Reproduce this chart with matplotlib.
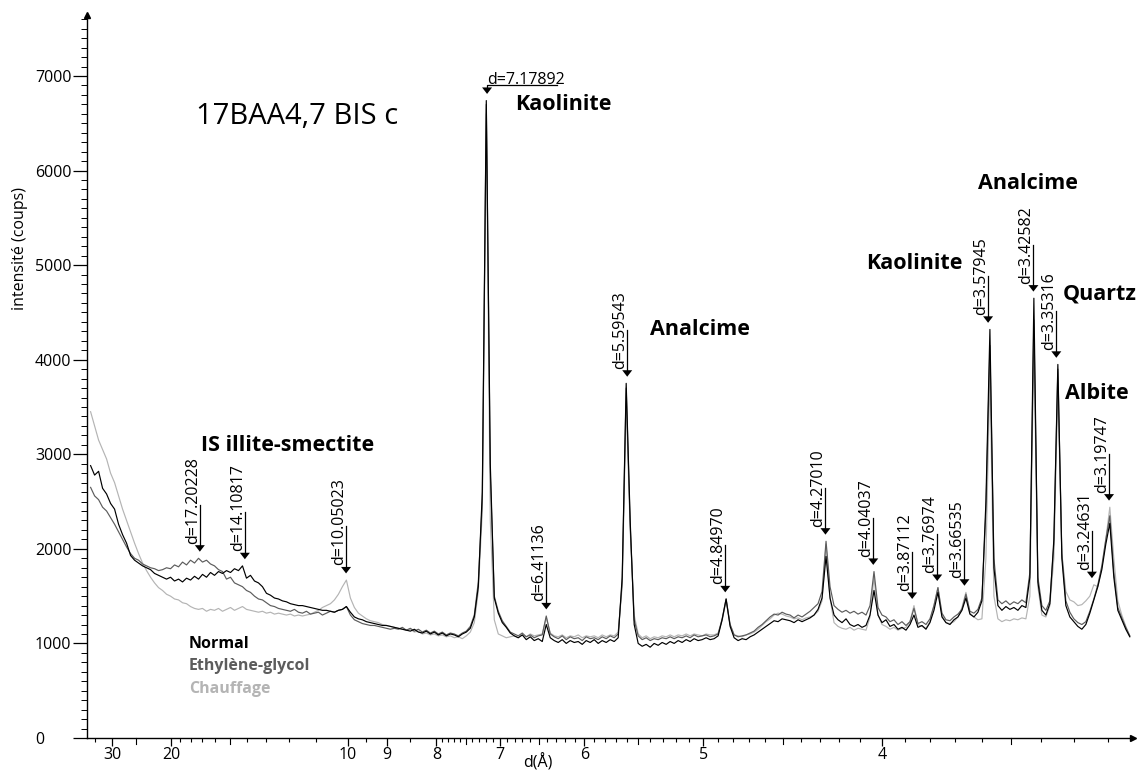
import numpy as np
import matplotlib.pyplot as plt
from matplotlib.ticker import FixedLocator, MultipleLocator
from matplotlib.transforms import ScaledTranslation

plt.rcParams['font.family'] = ['Open Sans', 'DejaVu Sans']

W, H = 1138, 771
WAVELENGTH = 1.5406          # Cu K-alpha (Å)

# Scan grid: 2-theta from 2.4° to 28.4°, step 0.1°
TTH_START = 2.4
TTH_STEP = 0.1

# Intensities (counts), one value per scan step
normal = [
    2880, 2780, 2820, 2640, 2580, 2480,
    2420, 2260, 2150, 2060, 1930, 1880, 1850, 1820, 1800, 1780,
    1740, 1720, 1700, 1680, 1700, 1660, 1680, 1650, 1690, 1670,
    1710, 1680, 1730, 1700, 1750, 1720, 1760, 1740, 1770, 1750,
    1790, 1770, 1820, 1690, 1720, 1660, 1640, 1600, 1530, 1510,
    1480, 1470, 1450, 1440, 1420, 1410, 1400, 1400, 1390, 1380,
    1370, 1360, 1350, 1350, 1340, 1330, 1350, 1360, 1390, 1330,
    1280, 1260, 1250, 1230, 1220, 1210, 1200, 1190, 1190, 1180,
    1170, 1160, 1150, 1140, 1130, 1150, 1120, 1110, 1130, 1100,
    1120, 1090, 1110, 1080, 1100, 1090, 1070, 1100, 1120, 1160,
    1280, 1600, 2600, 6740, 2900, 1480, 1320, 1220, 1170, 1110,
    1080, 1060, 1090, 1040, 1070, 1030, 1050, 1020, 1200, 1060,
    1030, 1010, 1040, 1000, 1030, 1010, 1020, 990, 1030, 1010,
    1040, 1000, 1030, 1010, 1040, 1020, 1060, 1700, 3750, 2300,
    1200, 1000, 970, 990, 960, 1000, 980, 1010, 990, 1020,
    1000, 1030, 1010, 1040, 1020, 1050, 1030, 1040, 1060, 1040,
    1050, 1080, 1250, 1470, 1180, 1060, 1030, 1050, 1040, 1070,
    1090, 1120, 1150, 1180, 1210, 1240, 1230, 1260, 1250, 1240,
    1220, 1250, 1230, 1250, 1270, 1300, 1360, 1480, 1920, 1480,
    1300, 1250, 1220, 1260, 1200, 1180, 1200, 1170, 1190, 1300,
    1560, 1300, 1220, 1250, 1180, 1200, 1150, 1170, 1140, 1200,
    1300, 1170, 1190, 1150, 1220, 1350, 1540, 1280, 1220, 1200,
    1250, 1280, 1350, 1480, 1310, 1280, 1330, 1450, 2500, 4320,
    1800, 1400, 1350, 1390, 1360, 1380, 1350, 1400, 1380, 1700,
    4650, 1650, 1350, 1300, 1420, 2100, 3950, 1900, 1400, 1280,
    1230, 1180, 1150, 1200, 1320, 1460, 1600, 1780, 2050, 2270,
    1700, 1350, 1250, 1150, 1070,
]

ethylene_glycol = [
    2650, 2560, 2520, 2440, 2400, 2330,
    2260, 2180, 2100, 2020, 1950, 1900, 1880, 1840, 1820, 1800,
    1790, 1770, 1780, 1800, 1790, 1830, 1810, 1860, 1830, 1880,
    1850, 1900, 1860, 1880, 1840, 1820, 1780, 1760, 1680, 1700,
    1640, 1620, 1600, 1560, 1540, 1500, 1470, 1460, 1430, 1400,
    1390, 1370, 1360, 1350, 1340, 1360, 1330, 1320, 1340, 1310,
    1320, 1330, 1300, 1320, 1340, 1330, 1350, 1360, 1390, 1300,
    1250, 1230, 1210, 1200, 1190, 1190, 1180, 1170, 1160, 1150,
    1160, 1150, 1170, 1140, 1160, 1130, 1150, 1120, 1140, 1110,
    1130, 1100, 1120, 1090, 1110, 1100, 1080, 1110, 1130, 1180,
    1300, 1650, 2500, 6700, 2800, 1500, 1340, 1240, 1180, 1120,
    1100, 1080, 1110, 1070, 1090, 1060, 1080, 1090, 1290, 1100,
    1070, 1050, 1080, 1040, 1070, 1050, 1060, 1030, 1070, 1050,
    1060, 1040, 1070, 1050, 1080, 1060, 1100, 1650, 3700, 2250,
    1250, 1080, 1040, 1060, 1030, 1050, 1040, 1060, 1050, 1070,
    1050, 1070, 1060, 1080, 1060, 1090, 1070, 1080, 1090, 1070,
    1080, 1100, 1260, 1470, 1200, 1090, 1070, 1080, 1090, 1110,
    1130, 1170, 1200, 1240, 1280, 1310, 1300, 1330, 1310, 1300,
    1270, 1300, 1280, 1310, 1340, 1380, 1420, 1550, 2080, 1600,
    1400, 1360, 1330, 1350, 1320, 1340, 1310, 1330, 1300, 1400,
    1760, 1380, 1300, 1280, 1230, 1250, 1200, 1230, 1190, 1230,
    1370, 1210, 1230, 1200, 1260, 1400, 1590, 1320, 1250, 1240,
    1280, 1310, 1360, 1520, 1340, 1320, 1360, 1480, 2400, 4150,
    1900, 1460, 1420, 1450, 1410, 1440, 1420, 1460, 1430, 1750,
    4420, 1700, 1400, 1350, 1450, 2050, 3900, 1950, 1450, 1330,
    1260, 1220, 1200, 1230, 1340, 1470, 1620, 1820, 2100, 2350,
    1750, 1380, 1270, 1170, 1080,
]

chauffage = [
    3450, 3300, 3150, 3050, 2950, 2800,
    2700, 2560, 2420, 2300, 2180, 2060, 1950, 1850, 1770, 1700,
    1640, 1590, 1560, 1520, 1500, 1470, 1460, 1430, 1420, 1390,
    1370, 1360, 1370, 1340, 1360, 1350, 1370, 1340, 1360, 1380,
    1350, 1370, 1390, 1360, 1350, 1340, 1330, 1340, 1320, 1330,
    1310, 1320, 1310, 1300, 1310, 1290, 1300, 1290, 1300, 1310,
    1330, 1350, 1380, 1400, 1420, 1460, 1520, 1600, 1670, 1480,
    1380, 1320, 1290, 1260, 1240, 1230, 1220, 1200, 1190, 1180,
    1170, 1160, 1150, 1140, 1150, 1120, 1130, 1100, 1110, 1090,
    1100, 1080, 1090, 1070, 1080, 1060, 1070, 1050, 1080, 1120,
    1220, 1550, 2400, 6600, 2300, 1250, 1100, 1080, 1060, 1070,
    1080, 1060, 1090, 1070, 1100, 1080, 1090, 1100, 1270, 1110,
    1080, 1070, 1090, 1060, 1080, 1070, 1090, 1060, 1080, 1070,
    1080, 1060, 1090, 1070, 1090, 1080, 1120, 1600, 3550, 2200,
    1300, 1100, 1060, 1080, 1050, 1070, 1060, 1080, 1070, 1090,
    1070, 1090, 1080, 1100, 1080, 1100, 1090, 1080, 1100, 1090,
    1090, 1110, 1240, 1450, 1200, 1090, 1080, 1070, 1090, 1100,
    1120, 1150, 1190, 1230, 1260, 1300, 1320, 1310, 1290, 1280,
    1260, 1270, 1250, 1270, 1280, 1300, 1340, 1450, 2050, 1480,
    1220, 1180, 1160, 1150, 1170, 1140, 1160, 1150, 1140, 1280,
    1700, 1300, 1200, 1180, 1150, 1170, 1140, 1160, 1170, 1230,
    1400, 1200, 1180, 1160, 1230, 1400, 1590, 1300, 1220, 1210,
    1230, 1280, 1380, 1540, 1320, 1280, 1250, 1260, 1900, 3850,
    1500, 1260, 1230, 1250, 1240, 1260, 1250, 1270, 1260, 1500,
    4200, 1600, 1300, 1280, 1400, 1900, 3700, 1950, 1550, 1460,
    1440, 1400, 1410, 1450, 1500, 1620, 1600, 1800, 2100, 2440,
    1900, 1450, 1300, 1180, 1080,
]

series_names = ['Normal', 'Ethylène-glycol', 'Chauffage']
series_colors = ['#000000', '#5c5c5c', '#b4b4b4']

# Labelled reflections (d-spacings in Å)
peak_d = [17.20228, 14.10817, 10.05023, 7.17892, 6.41136, 5.59543, 4.84970,
          4.27010, 4.04037, 3.87112, 3.76974, 3.66535, 3.57945, 3.42582,
          3.35316, 3.24631, 3.19747]

# d-axis graduations
d_major = [30, 20, 10, 9, 8, 7, 6, 5, 4]
d_medium = [25, 15, 7.5, 6.5, 5.5, 4.5, 3.5]
d_minor = ([35, 19, 18, 17, 16, 14, 13, 12, 11, 9.5, 8.5]
           + [round(8 - 0.1 * k, 1) for k in range(1, 49)])


def tth(d):
    return 2 * np.degrees(np.arcsin(WAVELENGTH / (2 * np.asarray(d, float))))


def fpx(x, y):
    return x / W, 1 - y / H


two_theta = TTH_START + TTH_STEP * np.arange(len(normal))
data = [np.array(normal), np.array(ethylene_glycol), np.array(chauffage)]

fig = plt.figure(figsize=(W / 100, H / 100), dpi=100)
ax = fig.add_axes([87 / W, 1 - 738 / H, (1133 - 87) / W, (738 - 14.5) / H])

for y, c in zip(data[::-1], series_colors[::-1]):
    ax.plot(two_theta, y, color=c, lw=0.85)

ax.set_xlim(2.31, 28.48)
ax.set_ylim(0, 7650)

for s in ('top', 'right'):
    ax.spines[s].set_visible(False)
for s in ('left', 'bottom'):
    ax.spines[s].set_linewidth(1.0)

# axis arrows
ax.plot(1, 0, marker='>', color='k', ms=5, transform=ax.transAxes, clip_on=False)
ax.plot(0, 1, marker='^', color='k', ms=5, transform=ax.transAxes, clip_on=False)

# x axis in d-spacing
d_minor = [d for d in d_minor if d not in d_major and d not in d_medium and d > 3.15]
ax.xaxis.set_major_locator(FixedLocator(tth(d_major)))
ax.set_xticklabels([str(d) for d in d_major])
ax.xaxis.set_minor_locator(FixedLocator(tth(d_minor)))
ax.tick_params(axis='x', which='major', length=5.5, width=0.9, pad=1, labelsize=11.5)
ax.tick_params(axis='x', which='minor', length=3, width=0.8)
xt = ax.get_xaxis_transform()
for x in tth(d_medium):
    ax.plot([x, x], [0, -5.5 / 723.5], color='k', lw=0.8, transform=xt, clip_on=False)

# y axis
ax.set_yticks(range(0, 7001, 1000))
ax.yaxis.set_minor_locator(MultipleLocator(100))
ax.tick_params(axis='y', which='major', length=10, width=0.9, pad=27.5, labelsize=11.5)
ax.tick_params(axis='y', which='minor', length=4.5, width=0.7)
for lbl in ax.get_yticklabels():
    lbl.set_horizontalalignment('left')

fig.text(*fpx(538, 768), 'd(Å)', ha='center', va='baseline', fontsize=11.5)
fig.text(*fpx(20, 248), 'intensité (coups)', rotation=90, ha='center', va='center',
         fontsize=11.5)

# peak markers: arrow + vertical d label
for d in peak_d:
    x0 = tth(d)
    near = np.abs(two_theta - x0) <= 0.1
    top = max(y[near].max() for y in data) + 70
    tr = fig.dpi_scale_trans + ScaledTranslation(x0, top, ax.transData)
    ax.fill([-0.05, 0.05, 0], [0.065, 0.065, 0], color='k', transform=tr, lw=0)
    label = f'd={d:.5f}'
    if 7 < d < 8:
        ax.plot([0, 0, 0.70], [0.06, 0.09, 0.09], color='k', lw=0.9, transform=tr)
        ax.text(0.005, 0.095, label, ha='left', va='baseline', fontsize=11.5,
                transform=tr)
    else:
        ax.plot([0, 0], [0.06, 0.47], color='k', lw=0.9, transform=tr)
        ax.text(0.01, 0.08, label, rotation=90, ha='right', va='bottom',
                fontsize=11.5, transform=tr)

# mineral names
minerals = [('IS illite-smectite', 201, 451), ('Kaolinite', 515, 110),
            ('Analcime', 650, 335), ('Kaolinite', 866, 269),
            ('Analcime', 978, 189), ('Quartz', 1063, 300), ('Albite', 1065, 399)]
for name, px, py in minerals:
    fig.text(*fpx(px, py), name, fontsize=15.5, fontweight='bold', va='baseline')

fig.text(*fpx(196, 124), '17BAA4,7 BIS c', fontsize=21, va='baseline')

# series key
for i, (name, c) in enumerate(zip(series_names, series_colors)):
    fig.text(*fpx(189, 648 + 22.3 * i), name, color=c, fontsize=11.5,
             fontweight='bold', va='baseline')

fig.savefig('out.png', dpi=100)
